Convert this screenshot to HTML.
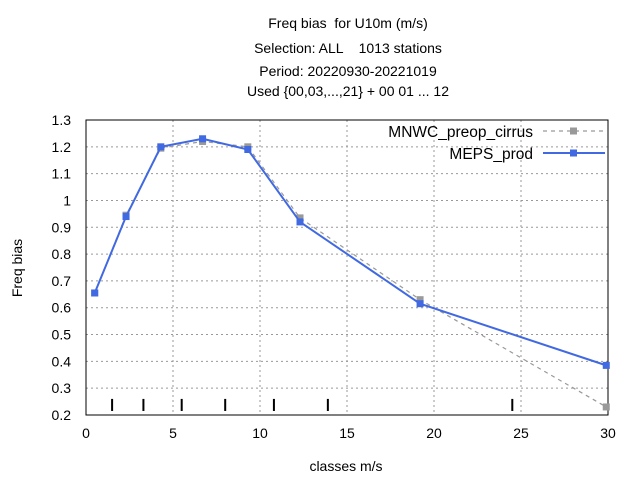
<!DOCTYPE html>
<html><head><meta charset="utf-8"><style>
body{margin:0;background:#fff}
text{font-family:"Liberation Sans",sans-serif;font-size:14px;fill:#000;white-space:pre}
</style></head><body>
<svg id="c" width="640" height="480" xmlns="http://www.w3.org/2000/svg" xml:space="preserve">
<g text-anchor="middle">
<text x="348" y="28">Freq bias  for U10m (m/s)</text>
<text x="348" y="53">Selection: ALL    1013 stations</text>
<text x="348" y="76">Period: 20220930-20221019</text>
<text x="348" y="96">Used {00,03,...,21} + 00 01 ... 12</text>
</g>
<text x="22" y="268" text-anchor="middle" transform="rotate(-90 22 268)">Freq bias</text>
<text x="346" y="471" text-anchor="middle">classes m/s</text>
<g id="grid"></g><g id="ax"></g><g id="series"></g>
<g>
<text x="533" y="137" text-anchor="end" style="font-size:15.5px">MNWC_preop_cirrus</text>
<line x1="543" y1="131" x2="605" y2="131" stroke="#999" stroke-width="1.2" stroke-dasharray="4,4"/>
<rect x="570" y="127.5" width="7" height="7" fill="#999"/>
<text x="533" y="159" text-anchor="end" style="font-size:15.5px">MEPS_prod</text>
<line x1="543" y1="153" x2="605" y2="153" stroke="#4169e1" stroke-width="2"/>
<rect x="570" y="149.5" width="7" height="7" fill="#4169e1"/>
</g>
</svg>
<script>
const xs=[0.5,2.3,4.3,6.7,9.3,12.3,19.2,29.9];
const meps=[0.655,0.94,1.2,1.23,1.19,0.92,0.615,0.385];
const mnwc=[0.655,0.945,1.195,1.22,1.2,0.935,0.63,0.23];
const xTicks=[0,5,10,15,20,25,30];
const yTicks=[0.2,0.3,0.4,0.5,0.6,0.7,0.8,0.9,1,1.1,1.2,1.3];
const classMarks=[1.5,3.3,5.5,8,10.8,13.9,24.5];
const L=86,R=608,T=120,B=415;
const X=v=>L+(v-0)/30*(R-L), Y=v=>B-(v-0.2)/1.1*(B-T);
const NS="http://www.w3.org/2000/svg";
function mk(t,a,p){const e=document.createElementNS(NS,t);for(const k in a)e.setAttribute(k,a[k]);p.appendChild(e);return e;}
const g=document.getElementById('grid'),ax=document.getElementById('ax'),s=document.getElementById('series');
xTicks.forEach(v=>{
 if(v>0&&v<30){const l=mk('line',{x1:X(v),x2:X(v),y1:T,y2:B,stroke:'#999','stroke-dasharray':'2,3'},g);
 }
 const t=mk('text',{x:X(v),y:B+23,'text-anchor':'middle'},ax);t.textContent=v;
 
});
yTicks.forEach(v=>{
 if(v>0.25&&v<1.25){const l=mk('line',{x1:L,x2:R,y1:Y(v),y2:Y(v),stroke:'#999','stroke-dasharray':'2,3'},g);
 }
 const t=mk('text',{x:L-15,y:Y(v)+5,'text-anchor':'end'},ax);t.textContent=String(v);
 
});
const fr=mk('rect',{x:L,y:T,width:R-L,height:B-T,fill:'none',stroke:'#000'},ax);

classMarks.forEach(v=>{const l=mk('line',{x1:X(v),x2:X(v),y1:Y(0.26),y2:Y(0.215),stroke:'#000','stroke-width':2},ax);
 });
function series(ys,col,dash,w,name){
 const p=mk('polyline',{points:xs.map((x,i)=>X(x)+','+Y(ys[i])).join(' '),fill:'none',stroke:col,'stroke-width':w,'stroke-dasharray':dash},s);
 
 xs.forEach((x,i)=>{const r=mk('rect',{x:X(x)-3.5,y:Y(ys[i])-3.5,width:7,height:7,fill:col},s);
 });
}
series(mnwc,'#999','4,4',1.2,'mnwc-preop-cirrus');
series(meps,'#4169e1','none',2,'meps-prod');
</script>
</body></html>
